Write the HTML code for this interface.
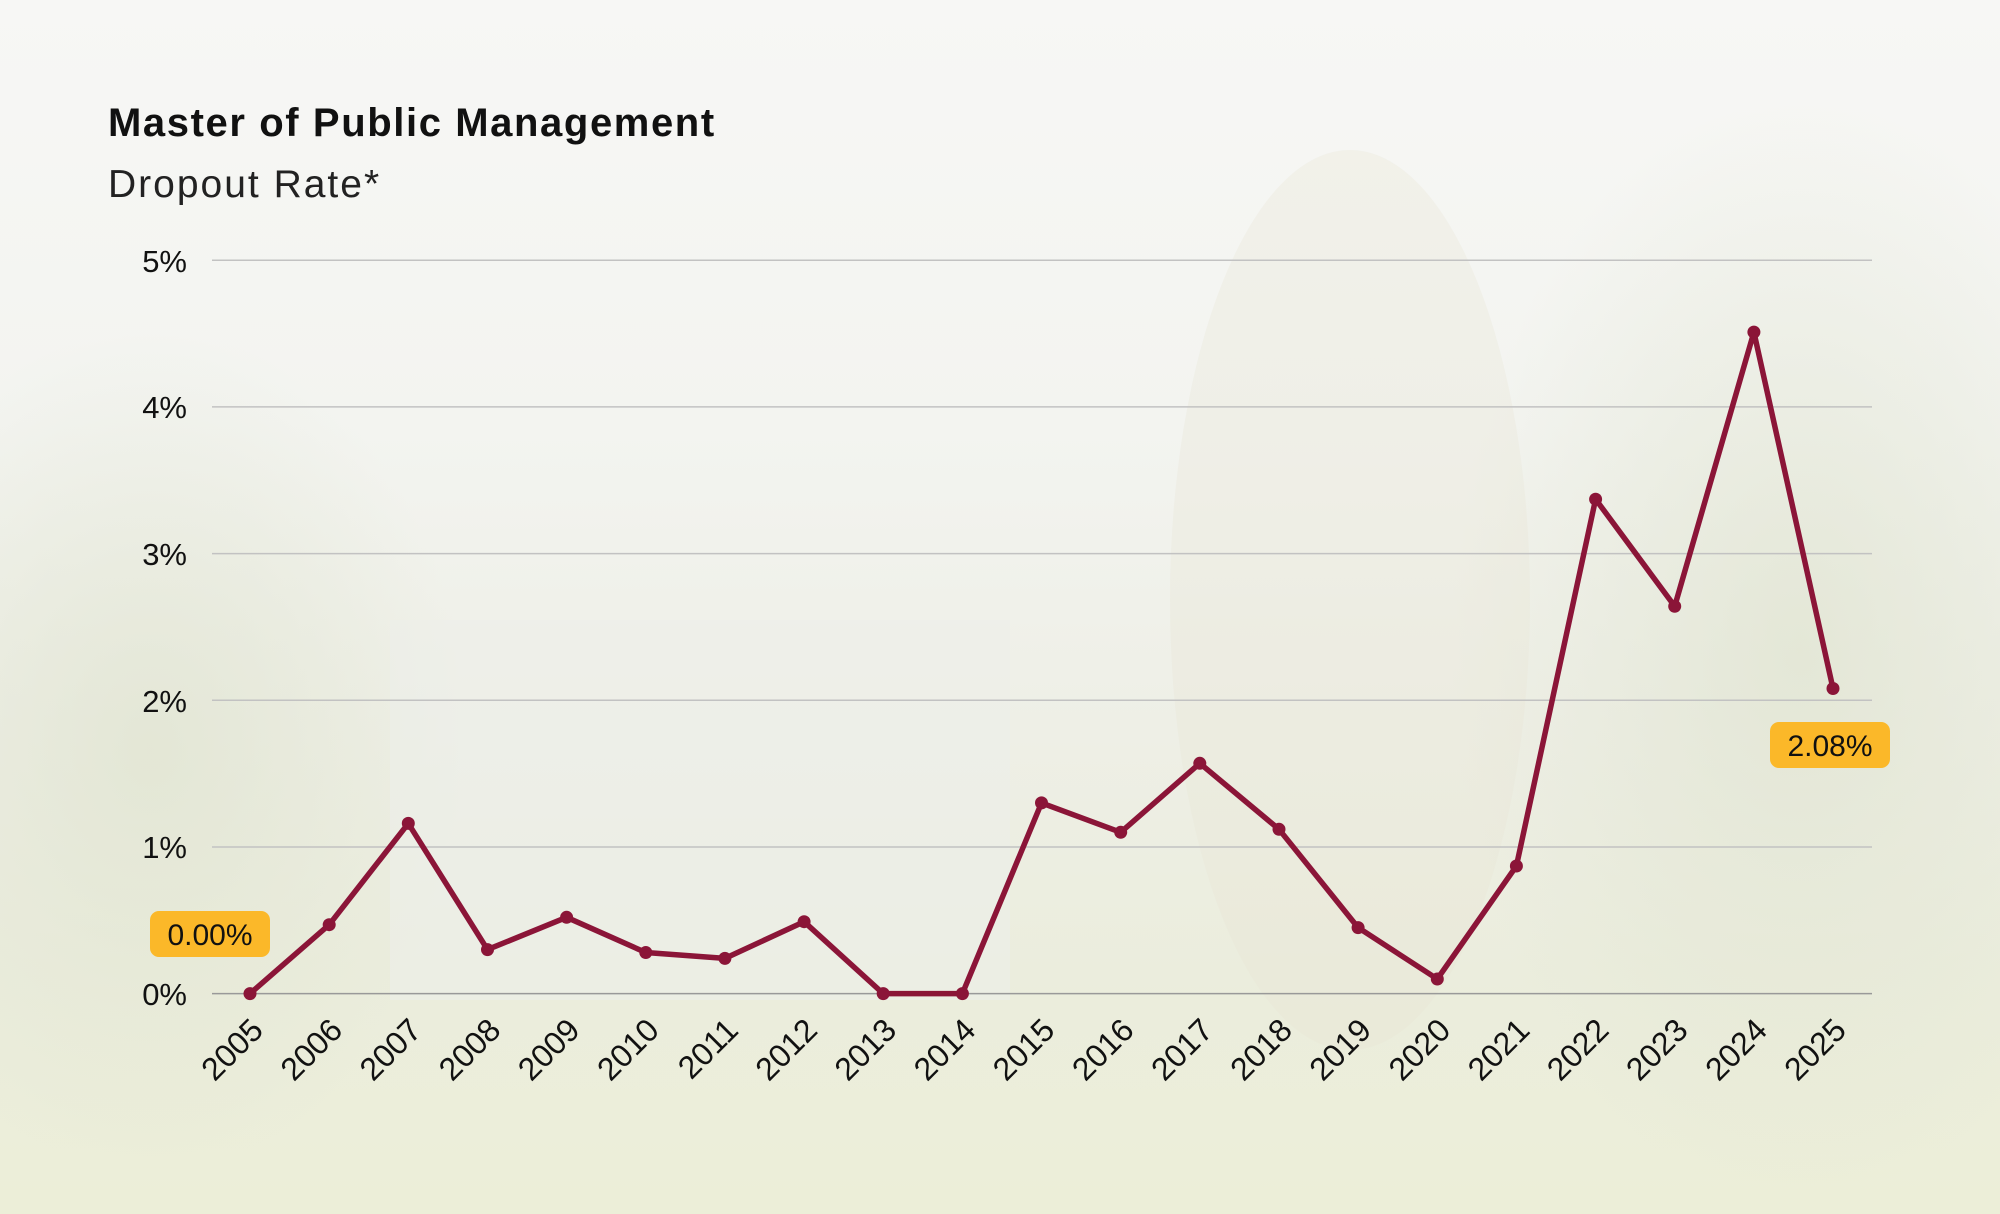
<!DOCTYPE html>
<html><head><meta charset="utf-8"><style>
html,body{margin:0;padding:0}
body{width:2000px;height:1214px;overflow:hidden;font-family:"Liberation Sans",sans-serif;
background:linear-gradient(180deg,#f7f7f5 0%,#f3f4f0 35%,#eeefe6 60%,#ebeddd 80%,#eceed8 100%);}
</style></head><body>
<svg width="2000" height="1214" xmlns="http://www.w3.org/2000/svg" style="position:absolute;left:0;top:0">
<defs><radialGradient id="g1" cx="0.5" cy="0.5" r="0.5"><stop offset="0" stop-color="#dfe3cf" stop-opacity="0.7"/><stop offset="1" stop-color="#dfe3cf" stop-opacity="0"/></radialGradient></defs>
<ellipse cx="150" cy="750" rx="320" ry="420" fill="url(#g1)"/>
<ellipse cx="1800" cy="650" rx="350" ry="550" fill="url(#g1)"/>
<ellipse cx="1350" cy="600" rx="180" ry="450" fill="#e9e4d4" opacity="0.3"/>
<rect x="390" y="620" width="620" height="380" fill="#eceee9" opacity="0.6"/>
<text x="108" y="136" font-size="40" font-weight="bold" fill="#111" letter-spacing="1.6">Master of Public Management</text>
<text x="108" y="197" font-size="39" fill="#222" letter-spacing="2">Dropout Rate*</text>
<g stroke="#c2c2c2" stroke-width="1.5">
<line x1="212" x2="1872" y1="260.2" y2="260.2"/><line x1="212" x2="1872" y1="406.9" y2="406.9"/>
<line x1="212" x2="1872" y1="553.6" y2="553.6"/><line x1="212" x2="1872" y1="700.3" y2="700.3"/>
<line x1="212" x2="1872" y1="847" y2="847"/><line x1="212" x2="1872" y1="993.6" y2="993.6" stroke="#999"/>
</g>
<g font-size="31" fill="#111" text-anchor="end">
<text x="187" y="272">5%</text><text x="187" y="418">4%</text><text x="187" y="565">3%</text>
<text x="187" y="712">2%</text><text x="187" y="858">1%</text><text x="187" y="1005">0%</text>
</g>
<polyline fill="none" stroke="#8b1538" stroke-width="5.5" stroke-linejoin="round" points="250,993.6 329.2,924.7 408.3,823.4 487.5,949.6 566.6,917.3 645.8,952.5 724.9,958.4 804.1,921.7 883.2,993.6 962.4,993.6 1041.5,802.9 1120.7,832.3 1199.8,763.3 1279,829.3 1358.1,927.6 1437.3,979 1516.4,866 1595.6,499.2 1674.7,606.3 1753.9,332.1 1833,688.5"/>
<g fill="#8b1538">
<circle cx="250" cy="993.6" r="6.5"/><circle cx="329.2" cy="924.7" r="6.5"/><circle cx="408.3" cy="823.4" r="6.5"/><circle cx="487.5" cy="949.6" r="6.5"/><circle cx="566.6" cy="917.3" r="6.5"/><circle cx="645.8" cy="952.5" r="6.5"/><circle cx="724.9" cy="958.4" r="6.5"/><circle cx="804.1" cy="921.7" r="6.5"/><circle cx="883.2" cy="993.6" r="6.5"/><circle cx="962.4" cy="993.6" r="6.5"/><circle cx="1041.5" cy="802.9" r="6.5"/><circle cx="1120.7" cy="832.3" r="6.5"/><circle cx="1199.8" cy="763.3" r="6.5"/><circle cx="1279" cy="829.3" r="6.5"/><circle cx="1358.1" cy="927.6" r="6.5"/><circle cx="1437.3" cy="979" r="6.5"/><circle cx="1516.4" cy="866" r="6.5"/><circle cx="1595.6" cy="499.2" r="6.5"/><circle cx="1674.7" cy="606.3" r="6.5"/><circle cx="1753.9" cy="332.1" r="6.5"/><circle cx="1833" cy="688.5" r="6.5"/>
</g>
<rect x="150" y="911" width="120" height="46" rx="9" fill="#fbb829"/>
<text x="210" y="945" font-size="30" fill="#111" text-anchor="middle">0.00%</text>
<rect x="1770" y="722" width="120" height="46" rx="9" fill="#fbb829"/>
<text x="1830" y="756" font-size="30" fill="#111" text-anchor="middle">2.08%</text>
<g font-size="32" fill="#111" text-anchor="end">
<text transform="translate(265,1032) rotate(-45)">2005</text>
<text transform="translate(344.2,1032) rotate(-45)">2006</text>
<text transform="translate(423.3,1032) rotate(-45)">2007</text>
<text transform="translate(502.5,1032) rotate(-45)">2008</text>
<text transform="translate(581.6,1032) rotate(-45)">2009</text>
<text transform="translate(660.8,1032) rotate(-45)">2010</text>
<text transform="translate(739.9,1032) rotate(-45)">2011</text>
<text transform="translate(819.1,1032) rotate(-45)">2012</text>
<text transform="translate(898.2,1032) rotate(-45)">2013</text>
<text transform="translate(977.4,1032) rotate(-45)">2014</text>
<text transform="translate(1056.5,1032) rotate(-45)">2015</text>
<text transform="translate(1135.7,1032) rotate(-45)">2016</text>
<text transform="translate(1214.8,1032) rotate(-45)">2017</text>
<text transform="translate(1294,1032) rotate(-45)">2018</text>
<text transform="translate(1373.1,1032) rotate(-45)">2019</text>
<text transform="translate(1452.3,1032) rotate(-45)">2020</text>
<text transform="translate(1531.4,1032) rotate(-45)">2021</text>
<text transform="translate(1610.6,1032) rotate(-45)">2022</text>
<text transform="translate(1689.7,1032) rotate(-45)">2023</text>
<text transform="translate(1768.9,1032) rotate(-45)">2024</text>
<text transform="translate(1848,1032) rotate(-45)">2025</text>
</g>
</svg>
</body></html>
